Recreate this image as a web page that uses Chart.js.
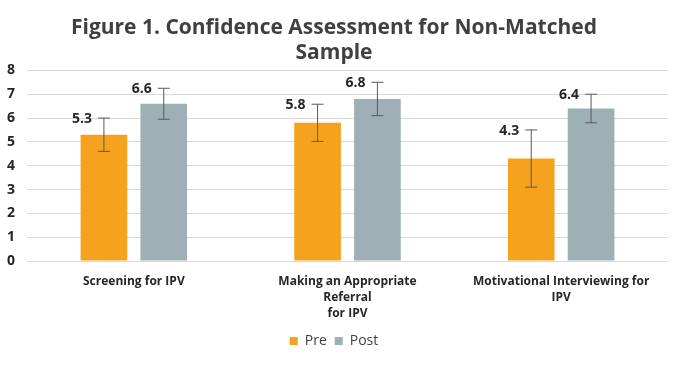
<!DOCTYPE html>
<html>
<head>
<meta charset="utf-8">
<script src="https://cdn.jsdelivr.net/npm/chart.js@4/dist/chart.umd.min.js"></script>
<style>
  html, body { margin: 0; padding: 0; background: #fff; }
  #wrap { width: 682px; height: 366px; }
</style>
</head>
<body>
<div id="wrap"><canvas id="chart"></canvas></div>
<script>
// data
const categories = [
    "Screening for IPV",
    ["Making an Appropriate", "Referral", "for IPV"],
    ["Motivational Interviewing for", "IPV"]
];
const preValues = [5.3, 5.8, 4.3];
const postValues = [6.6, 6.8, 6.4];
const preErrors = [0.7, 0.78, 1.2];
const postErrors = [0.65, 0.7, 0.6];
const yTicks = [0, 1, 2, 3, 4, 5, 6, 7, 8];

const fontFamily = "'Open Sans', sans-serif";
const errorsByDataset = [preErrors, postErrors];

// error bars + value labels drawn on top of the bars
const errorBarPlugin = {
    id: "errorBars",
    afterDatasetsDraw(chart) {
        const ctx = chart.ctx;
        const yScale = chart.scales.y;
        chart.data.datasets.forEach((ds, i) => {
            const meta = chart.getDatasetMeta(i);
            meta.data.forEach((bar, j) => {
                const v = ds.data[j];
                const err = errorsByDataset[i][j];
                const yTop = yScale.getPixelForValue(v + err);
                const yBot = yScale.getPixelForValue(v - err);
                const x = bar.x;
                ctx.save();
                ctx.strokeStyle = "#595959";
                ctx.lineWidth = 1;
                ctx.beginPath();
                ctx.moveTo(x, yTop);
                ctx.lineTo(x, yBot);
                ctx.moveTo(x - 6, yTop);
                ctx.lineTo(x + 6, yTop);
                ctx.moveTo(x - 6, yBot);
                ctx.lineTo(x + 6, yBot);
                ctx.stroke();

                ctx.fillStyle = "#262626";
                ctx.font = "bold 14px " + fontFamily;
                ctx.textAlign = "right";
                ctx.textBaseline = "middle";
                ctx.fillText(v.toFixed(1), x - 12, yTop + 1);
                ctx.restore();
            });
        });
    }
};

new Chart(document.getElementById("chart"), {
    type: "bar",
    data: {
        labels: categories,
        datasets: [
            {
                label: "Pre",
                data: preValues,
                backgroundColor: "#F5A31E",
                categoryPercentage: 0.56,
                barPercentage: 0.78
            },
            {
                label: "Post",
                data: postValues,
                backgroundColor: "#9EAFB5",
                categoryPercentage: 0.56,
                barPercentage: 0.78
            }
        ]
    },
    options: {
        responsive: true,
        maintainAspectRatio: false,
        animation: false,
        layout: { padding: { left: 0, right: 14, top: 0, bottom: 8 } },
        plugins: {
            title: {
                display: true,
                text: ["Figure 1. Confidence Assessment for Non-Matched", "Sample"],
                color: "#404040",
                font: { family: fontFamily, size: 21, weight: "bold", lineHeight: 1.2 },
                padding: { top: 15, bottom: 5 }
            },
            legend: {
                position: "bottom",
                labels: {
                    color: "#404040",
                    font: { family: fontFamily, size: 14 },
                    boxWidth: 8,
                    boxHeight: 8,
                    padding: 8
                }
            },
            tooltip: { enabled: false }
        },
        scales: {
            x: {
                grid: { display: false },
                border: { display: false },
                afterFit(scale) {
                    scale.height = 65;
                },
                ticks: {
                    color: "#262626",
                    font: { family: fontFamily, size: 12, weight: "bold", lineHeight: 1.35 },
                    maxRotation: 0,
                    autoSkip: false,
                    padding: 4
                }
            },
            y: {
                min: 0,
                max: 8,
                afterBuildTicks(scale) {
                    scale.ticks = yTicks.map(v => ({ value: v }));
                },
                afterFit(scale) {
                    scale.width = 27;
                },
                grid: { color: "#D9D9D9", drawTicks: false },
                border: { display: false },
                ticks: {
                    color: "#262626",
                    font: { family: fontFamily, size: 14, weight: "bold" },
                    padding: 12
                }
            }
        }
    },
    plugins: [errorBarPlugin]
});
</script>
</body>
</html>
